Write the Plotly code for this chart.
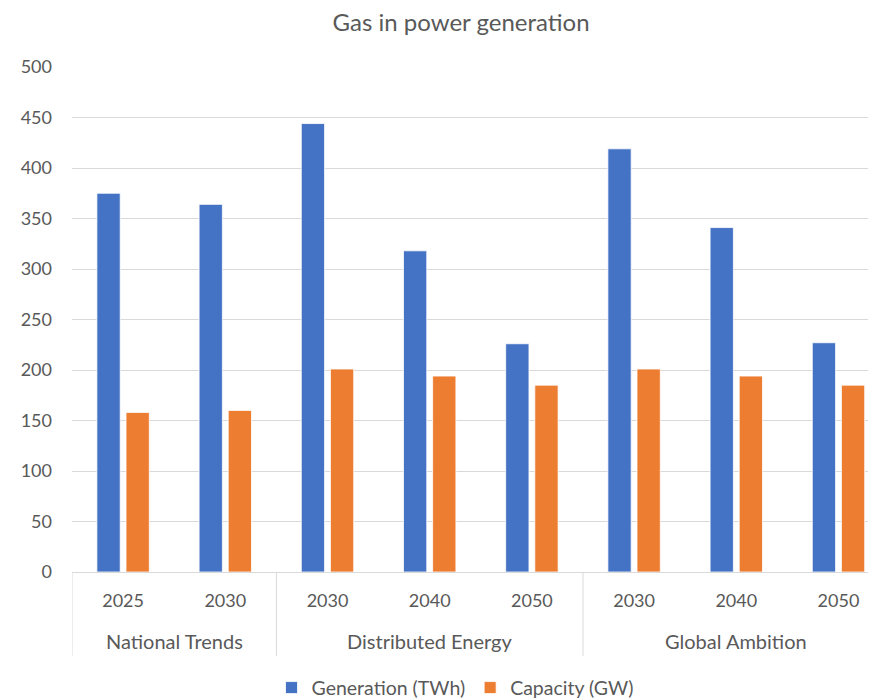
import plotly.graph_objects as go

groups = ["National Trends", "National Trends",
          "Distributed Energy", "Distributed Energy", "Distributed Energy",
          "Global Ambition", "Global Ambition", "Global Ambition"]
years = ["2025", "2030", "2030", "2040", "2050", "2030", "2040", "2050"]
generation_twh = [375, 364, 444, 318, 226, 419, 341, 227]
capacity_gw = [158, 160, 201, 194, 185, 201, 194, 185]
y_ticks = [0, 50, 100, 150, 200, 250, 300, 350, 400, 450, 500]

FONT = "Lato"
GREY = "#595959"
LINE = "#d9d9d9"

idx = list(range(len(years)))

fig = go.Figure()
fig.add_trace(go.Bar(
    x=idx, y=generation_twh, name="Generation (TWh)",
    marker=dict(color="#4472C4", line=dict(color="#ffffff", width=0.8)),
))
fig.add_trace(go.Bar(
    x=idx, y=capacity_gw, name="Capacity (GW)",
    marker=dict(color="#ED7D31", line=dict(color="#ffffff", width=0.8)),
))

# group labels and dividers, placed on the category index scale
ordered_groups = []
for g in groups:
    if g not in ordered_groups:
        ordered_groups.append(g)
boundaries = [-0.5]
for g in ordered_groups:
    members = [i for i, gg in enumerate(groups) if gg == g]
    fig.add_annotation(x=sum(members) / len(members), y=-0.1366,
                       xref="x", yref="paper", text=g, showarrow=False,
                       xanchor="center", yanchor="middle",
                       font=dict(family=FONT, size=20, color=GREY))
    boundaries.append(max(members) + 0.5)
for b in boundaries:
    fig.add_shape(type="line", xref="x", yref="paper", x0=b, x1=b,
                  y0=0, y1=-0.166, line=dict(color=LINE, width=1))

fig.update_layout(
    width=868, height=692,
    margin=dict(l=64, r=0, t=59, b=128),
    paper_bgcolor="white", plot_bgcolor="white",
    font=dict(family=FONT, size=18, color=GREY),
    title=dict(text="Gas in power generation", x=0.522, xref="container",
               xanchor="center", y=0.979, yref="container", yanchor="middle",
               font=dict(family=FONT, size=24, color=GREY)),
    barmode="group", bargap=0.43, bargroupgap=0.2,
    showlegend=True,
    legend=dict(orientation="h", x=0.515, xref="container", xanchor="center",
                y=0.0175, yref="container", yanchor="middle",
                font=dict(family=FONT, size=19.5, color=GREY),
                traceorder="normal"),
)
fig.update_yaxes(
    range=[0, 500], tickvals=y_ticks, showgrid=True, gridcolor=LINE,
    gridwidth=1, zeroline=False, showline=False, ticks="", automargin=False,
    ticklabelstandoff=19, tickfont=dict(family=FONT, size=18, color=GREY),
)
fig.update_xaxes(
    range=[-0.5, 7.367], tickvals=idx, ticktext=years, showgrid=False,
    zeroline=False, showline=True, linecolor=LINE, linewidth=1,
    ticks="", automargin=False, ticklabelstandoff=12,
    tickfont=dict(family=FONT, size=18, color=GREY),
)

fig.write_html("out.html")
